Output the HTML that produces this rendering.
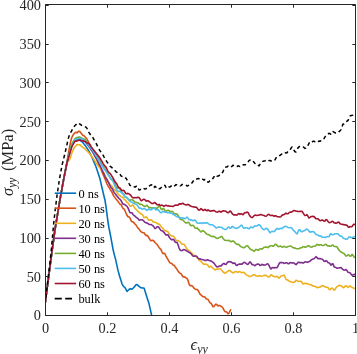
<!DOCTYPE html>
<html><head><meta charset="utf-8"><title>stress-strain</title>
<style>
html,body{margin:0;padding:0;background:#fff;}
svg{display:block;}
text{font-family:"Liberation Serif","DejaVu Serif",serif;fill:#262626;}
.tk{font-size:14.3px;}
.lg{font-size:12.4px;fill:#000;}
.ax{stroke:#262626;stroke-width:1;fill:none;}
.cv{fill:none;stroke-width:1.6;stroke-linejoin:round;stroke-linecap:butt;}
</style></head><body>
<svg width="357" height="354" viewBox="0 0 357 354">
<rect x="0" y="0" width="357" height="354" fill="#ffffff"/>
<defs><clipPath id="c"><rect x="45" y="5" width="310.5" height="310"/></clipPath></defs>

<g clip-path="url(#c)">
<path class="cv" d="M45.0 304.4 L46.0 296.8 L47.0 289.2 L48.0 281.6 L49.0 274.0 L50.0 266.4 L51.0 258.8 L52.0 251.4 L53.0 244.1 L54.0 236.8 L55.0 229.5 L56.0 223.5 L57.0 217.5 L58.0 211.5 L59.0 205.5 L60.0 199.5 L61.0 193.9 L62.0 188.4 L63.0 182.9 L64.0 177.5 L65.0 172.5 L66.0 167.5 L67.0 162.6 L68.0 158.5 L69.0 154.5 L70.0 150.5 L71.0 147.3 L72.0 144.9 L73.0 142.5 L74.0 141.8 L75.0 141.1 L76.0 140.5 L77.0 140.3 L78.0 140.1 L79.0 140.0 L80.0 140.5 L81.0 141.0 L82.0 141.5 L83.0 142.8 L84.0 144.1 L85.0 145.3 L86.0 146.6 L87.0 148.1 L88.0 149.7 L89.0 151.5 L90.0 153.3 L91.0 155.2 L92.0 157.5 L93.0 159.8 L94.0 162.1 L95.0 164.5 L96.0 166.8 L97.0 169.7 L98.0 172.7 L99.0 175.7 L100.0 179.0 L101.0 183.4 L102.0 187.7 L103.0 192.0 L104.0 196.2 L105.0 200.3 L106.0 206.7 L107.0 214.4 L108.0 222.0 L109.0 228.0 L110.0 233.0 L111.0 238.1 L112.0 243.7 L113.0 249.0 L114.0 253.6 L115.0 257.1 L116.0 261.1 L117.0 265.8 L118.0 270.4 L119.0 274.0 L120.0 277.6 L121.0 280.6 L122.0 283.8 L123.0 285.7 L124.0 286.8 L125.0 287.7 L126.0 289.4 L127.0 291.5 L128.0 290.5 L129.0 289.5 L130.0 288.8 L131.0 288.9 L132.0 289.2 L133.0 288.3 L134.0 287.2 L135.0 286.1 L136.0 284.8 L137.0 284.6 L138.0 285.4 L139.0 286.4 L140.0 287.1 L141.0 287.7 L142.0 287.9 L143.0 288.0 L144.0 288.0 L145.0 291.1 L146.0 294.3 L147.0 297.5 L148.0 300.6 L149.0 303.6 L150.0 308.1 L151.0 312.5 L151.6 315.0" stroke="#0072BD"/>
<path class="cv" d="M45.0 304.4 L46.0 296.7 L47.0 289.1 L48.0 281.6 L49.0 273.9 L50.0 266.2 L51.0 258.7 L52.0 251.2 L53.0 243.9 L54.0 236.7 L55.0 229.6 L56.0 223.8 L57.0 217.6 L58.0 211.4 L59.0 205.5 L60.0 199.5 L61.0 194.0 L62.0 188.5 L63.0 182.9 L64.0 177.4 L65.0 172.4 L66.0 167.5 L67.0 162.5 L68.0 156.2 L69.0 149.9 L70.0 145.0 L71.0 140.0 L72.0 137.1 L73.0 135.2 L74.0 133.7 L75.0 132.9 L76.0 132.3 L77.0 132.9 L78.0 131.9 L79.0 131.1 L80.0 131.7 L81.0 133.0 L82.0 134.4 L83.0 135.4 L84.0 135.8 L85.0 136.8 L86.0 137.9 L87.0 139.1 L88.0 141.1 L89.0 143.0 L90.0 144.7 L91.0 146.6 L92.0 148.7 L93.0 150.7 L94.0 152.9 L95.0 155.1 L96.0 157.4 L97.0 159.7 L98.0 162.2 L99.0 164.7 L100.0 167.2 L101.0 169.5 L102.0 172.0 L103.0 174.3 L104.0 176.4 L105.0 178.9 L106.0 181.5 L107.0 184.0 L108.0 186.0 L109.0 187.4 L110.0 189.2 L111.0 190.8 L112.0 192.3 L113.0 194.7 L114.0 196.4 L115.0 197.6 L116.0 199.1 L117.0 200.3 L118.0 201.3 L119.0 202.9 L120.0 204.3 L121.0 204.6 L122.0 206.6 L123.0 208.5 L124.0 208.9 L125.0 210.7 L126.0 213.1 L127.0 215.3 L128.0 216.8 L129.0 216.9 L130.0 218.0 L131.0 220.6 L132.0 221.8 L133.0 221.9 L134.0 222.8 L135.0 224.1 L136.0 225.0 L137.0 226.6 L138.0 228.1 L139.0 229.0 L140.0 230.5 L141.0 231.6 L142.0 232.3 L143.0 232.7 L144.0 232.7 L145.0 234.4 L146.0 235.4 L147.0 235.4 L148.0 236.4 L149.0 238.0 L150.0 239.7 L151.0 240.8 L152.0 240.4 L153.0 240.3 L154.0 241.2 L155.0 242.5 L156.0 243.5 L157.0 244.5 L158.0 245.9 L159.0 247.4 L160.0 248.6 L161.0 249.6 L162.0 251.8 L163.0 253.7 L164.0 253.3 L165.0 253.9 L166.0 256.1 L167.0 257.8 L168.0 259.6 L169.0 261.5 L170.0 262.9 L171.0 263.3 L172.0 263.8 L173.0 264.9 L174.0 265.3 L175.0 266.6 L176.0 268.0 L177.0 269.3 L178.0 271.0 L179.0 272.4 L180.0 273.2 L181.0 273.7 L182.0 275.3 L183.0 276.7 L184.0 276.9 L185.0 277.1 L186.0 277.9 L187.0 278.3 L188.0 280.3 L189.0 284.0 L190.0 285.6 L191.0 285.6 L192.0 285.8 L193.0 286.8 L194.0 288.2 L195.0 289.0 L196.0 289.5 L197.0 289.5 L198.0 290.1 L199.0 292.2 L200.0 294.1 L201.0 294.9 L202.0 295.8 L203.0 296.8 L204.0 296.7 L205.0 297.0 L206.0 298.7 L207.0 299.1 L208.0 299.4 L209.0 301.2 L210.0 302.8 L211.0 303.2 L212.0 304.9 L213.0 306.8 L214.0 306.4 L215.0 305.0 L216.0 304.0 L217.0 304.9 L218.0 305.9 L219.0 305.5 L220.0 305.5 L221.0 306.3 L222.0 306.9 L223.0 308.1 L224.0 310.2 L225.0 311.6 L226.0 311.7 L227.0 312.3 L228.0 313.9 L229.0 313.1 L230.0 311.2 L230.8 309.2" stroke="#D95319"/>
<path class="cv" d="M45.0 304.6 L46.0 296.9 L47.0 289.1 L48.0 281.4 L49.0 273.9 L50.0 266.3 L51.0 258.7 L52.0 251.3 L53.0 244.0 L54.0 236.7 L55.0 229.4 L56.0 223.6 L57.0 217.7 L58.0 211.7 L59.0 205.6 L60.0 199.4 L61.0 193.8 L62.0 188.3 L63.0 182.8 L64.0 177.4 L65.0 172.3 L66.0 167.5 L67.0 162.7 L68.0 161.4 L69.0 160.4 L70.0 158.9 L71.0 155.8 L72.0 152.5 L73.0 150.2 L74.0 148.2 L75.0 146.7 L76.0 145.7 L77.0 144.5 L78.0 144.6 L79.0 144.7 L80.0 144.9 L81.0 145.8 L82.0 146.6 L83.0 147.5 L84.0 148.1 L85.0 148.9 L86.0 150.0 L87.0 151.0 L88.0 151.9 L89.0 153.0 L90.0 154.2 L91.0 155.5 L92.0 156.8 L93.0 158.1 L94.0 159.7 L95.0 161.3 L96.0 162.8 L97.0 164.2 L98.0 165.6 L99.0 166.9 L100.0 168.1 L101.0 169.4 L102.0 170.5 L103.0 171.7 L104.0 173.2 L105.0 175.2 L106.0 177.4 L107.0 179.2 L108.0 181.2 L109.0 182.7 L110.0 184.5 L111.0 185.4 L112.0 186.1 L113.0 187.9 L114.0 189.4 L115.0 189.8 L116.0 190.9 L117.0 192.5 L118.0 194.0 L119.0 195.0 L120.0 195.8 L121.0 196.8 L122.0 197.0 L123.0 197.7 L124.0 199.1 L125.0 199.8 L126.0 201.1 L127.0 202.4 L128.0 202.9 L129.0 204.4 L130.0 206.0 L131.0 206.2 L132.0 205.3 L133.0 205.1 L134.0 206.6 L135.0 208.4 L136.0 209.2 L137.0 210.2 L138.0 211.4 L139.0 212.2 L140.0 213.1 L141.0 214.0 L142.0 214.1 L143.0 215.5 L144.0 217.6 L145.0 217.5 L146.0 216.7 L147.0 217.7 L148.0 219.4 L149.0 220.3 L150.0 220.1 L151.0 219.8 L152.0 220.4 L153.0 221.7 L154.0 222.2 L155.0 222.2 L156.0 222.6 L157.0 223.3 L158.0 223.9 L159.0 224.1 L160.0 224.9 L161.0 226.7 L162.0 227.5 L163.0 228.6 L164.0 229.8 L165.0 230.5 L166.0 231.1 L167.0 231.2 L168.0 231.8 L169.0 233.6 L170.0 234.9 L171.0 235.5 L172.0 236.0 L173.0 236.1 L174.0 236.6 L175.0 238.4 L176.0 240.3 L177.0 240.5 L178.0 240.5 L179.0 241.4 L180.0 241.9 L181.0 242.9 L182.0 244.3 L183.0 244.3 L184.0 244.2 L185.0 245.6 L186.0 247.4 L187.0 249.1 L188.0 250.1 L189.0 250.5 L190.0 251.6 L191.0 252.6 L192.0 253.3 L193.0 254.6 L194.0 255.1 L195.0 255.7 L196.0 256.8 L197.0 257.4 L198.0 258.4 L199.0 260.0 L200.0 260.8 L201.0 261.4 L202.0 262.5 L203.0 263.7 L204.0 264.2 L205.0 264.1 L206.0 264.3 L207.0 264.5 L208.0 265.4 L209.0 267.2 L210.0 266.6 L211.0 266.2 L212.0 267.5 L213.0 268.0 L214.0 269.0 L215.0 270.0 L216.0 269.3 L217.0 269.0 L218.0 269.3 L219.0 269.1 L220.0 268.6 L221.0 269.1 L222.0 270.6 L223.0 271.9 L224.0 272.7 L225.0 273.3 L226.0 272.7 L227.0 271.8 L228.0 271.1 L229.0 270.4 L230.0 270.6 L231.0 271.4 L232.0 272.5 L233.0 272.9 L234.0 272.3 L235.0 271.7 L236.0 271.6 L237.0 272.0 L238.0 272.4 L239.0 271.8 L240.0 271.6 L241.0 272.4 L242.0 272.8 L243.0 272.3 L244.0 272.5 L245.0 273.4 L246.0 274.6 L247.0 275.2 L248.0 275.6 L249.0 276.2 L250.0 276.6 L251.0 276.2 L252.0 275.4 L253.0 275.1 L254.0 274.7 L255.0 275.1 L256.0 275.9 L257.0 276.0 L258.0 276.2 L259.0 275.7 L260.0 275.7 L261.0 276.2 L262.0 276.0 L263.0 275.8 L264.0 275.5 L265.0 275.3 L266.0 275.4 L267.0 276.0 L268.0 276.8 L269.0 277.0 L270.0 276.2 L271.0 274.8 L272.0 275.3 L273.0 276.3 L274.0 276.4 L275.0 276.9 L276.0 276.7 L277.0 276.2 L278.0 277.2 L279.0 278.1 L280.0 277.2 L281.0 276.1 L282.0 275.8 L283.0 275.5 L284.0 275.1 L285.0 276.8 L286.0 279.3 L287.0 279.9 L288.0 280.1 L289.0 281.0 L290.0 281.6 L291.0 281.8 L292.0 282.4 L293.0 282.3 L294.0 282.2 L295.0 281.8 L296.0 280.3 L297.0 280.5 L298.0 281.4 L299.0 281.2 L300.0 281.3 L301.0 281.4 L302.0 282.4 L303.0 284.1 L304.0 283.8 L305.0 283.3 L306.0 283.6 L307.0 283.6 L308.0 283.8 L309.0 284.4 L310.0 284.7 L311.0 284.5 L312.0 285.5 L313.0 286.1 L314.0 286.1 L315.0 286.5 L316.0 286.8 L317.0 287.5 L318.0 287.6 L319.0 287.2 L320.0 287.1 L321.0 286.5 L322.0 285.6 L323.0 285.7 L324.0 286.2 L325.0 286.7 L326.0 287.2 L327.0 287.2 L328.0 287.6 L329.0 289.3 L330.0 289.8 L331.0 288.5 L332.0 288.1 L333.0 288.9 L334.0 290.1 L335.0 289.7 L336.0 287.7 L337.0 286.6 L338.0 286.1 L339.0 285.4 L340.0 285.4 L341.0 285.8 L342.0 286.4 L343.0 287.6 L344.0 287.5 L345.0 286.1 L346.0 285.6 L347.0 286.7 L348.0 287.5 L349.0 286.5 L350.0 285.9 L351.0 286.9 L352.0 287.4 L353.0 287.7 L354.0 288.5 L355.0 288.3" stroke="#EDB120"/>
<path class="cv" d="M45.0 304.4 L46.0 296.8 L47.0 289.2 L48.0 281.6 L49.0 273.9 L50.0 266.2 L51.0 258.7 L52.0 251.4 L53.0 244.1 L54.0 236.7 L55.0 229.5 L56.0 223.5 L57.0 217.6 L58.0 211.5 L59.0 205.4 L60.0 199.4 L61.0 194.0 L62.0 188.6 L63.0 183.0 L64.0 177.5 L65.0 172.4 L66.0 167.5 L67.0 162.5 L68.0 158.4 L69.0 154.6 L70.0 150.7 L71.0 147.4 L72.0 145.0 L73.0 142.5 L74.0 141.6 L75.0 140.7 L76.0 140.0 L77.0 139.7 L78.0 139.4 L79.0 139.3 L80.0 139.8 L81.0 140.1 L82.0 140.2 L83.0 140.6 L84.0 141.0 L85.0 141.4 L86.0 142.7 L87.0 143.9 L88.0 145.2 L89.0 146.5 L90.0 148.1 L91.0 149.6 L92.0 151.1 L93.0 152.6 L94.0 154.5 L95.0 156.3 L96.0 158.1 L97.0 160.0 L98.0 162.0 L99.0 163.9 L100.0 165.7 L101.0 167.6 L102.0 169.8 L103.0 172.0 L104.0 174.2 L105.0 176.6 L106.0 178.3 L107.0 179.8 L108.0 181.6 L109.0 183.6 L110.0 185.7 L111.0 187.5 L112.0 188.5 L113.0 190.1 L114.0 192.4 L115.0 193.6 L116.0 194.7 L117.0 196.1 L118.0 197.2 L119.0 198.5 L120.0 199.4 L121.0 200.3 L122.0 202.5 L123.0 204.1 L124.0 204.3 L125.0 204.8 L126.0 205.5 L127.0 206.3 L128.0 207.9 L129.0 210.4 L130.0 212.7 L131.0 212.7 L132.0 212.7 L133.0 214.5 L134.0 215.5 L135.0 216.1 L136.0 217.1 L137.0 217.8 L138.0 218.6 L139.0 219.9 L140.0 220.1 L141.0 219.8 L142.0 219.8 L143.0 220.2 L144.0 221.3 L145.0 222.4 L146.0 222.9 L147.0 222.9 L148.0 223.5 L149.0 224.4 L150.0 224.5 L151.0 224.5 L152.0 225.1 L153.0 225.8 L154.0 227.1 L155.0 228.6 L156.0 228.1 L157.0 226.7 L158.0 226.7 L159.0 227.5 L160.0 229.1 L161.0 230.5 L162.0 230.7 L163.0 231.4 L164.0 232.3 L165.0 233.8 L166.0 235.1 L167.0 234.7 L168.0 234.9 L169.0 236.8 L170.0 238.3 L171.0 239.3 L172.0 239.9 L173.0 239.3 L174.0 239.8 L175.0 241.8 L176.0 242.5 L177.0 242.3 L178.0 244.7 L179.0 247.8 L180.0 249.8 L181.0 250.5 L182.0 250.7 L183.0 250.0 L184.0 249.6 L185.0 249.9 L186.0 250.5 L187.0 251.1 L188.0 251.7 L189.0 252.4 L190.0 252.8 L191.0 253.6 L192.0 254.9 L193.0 256.1 L194.0 256.3 L195.0 256.0 L196.0 256.0 L197.0 256.6 L198.0 258.2 L199.0 258.9 L200.0 258.7 L201.0 259.2 L202.0 259.5 L203.0 259.8 L204.0 260.1 L205.0 260.4 L206.0 260.5 L207.0 259.8 L208.0 259.9 L209.0 260.5 L210.0 260.7 L211.0 261.0 L212.0 261.6 L213.0 262.4 L214.0 263.2 L215.0 264.6 L216.0 266.0 L217.0 266.9 L218.0 266.8 L219.0 266.2 L220.0 265.9 L221.0 265.9 L222.0 264.9 L223.0 263.7 L224.0 263.4 L225.0 264.3 L226.0 264.5 L227.0 263.0 L228.0 261.9 L229.0 261.5 L230.0 261.9 L231.0 261.9 L232.0 262.6 L233.0 263.5 L234.0 262.9 L235.0 263.2 L236.0 265.1 L237.0 265.5 L238.0 264.6 L239.0 264.1 L240.0 264.0 L241.0 264.1 L242.0 264.1 L243.0 263.2 L244.0 262.4 L245.0 262.5 L246.0 263.3 L247.0 264.3 L248.0 264.4 L249.0 263.0 L250.0 261.8 L251.0 262.9 L252.0 264.7 L253.0 264.6 L254.0 265.1 L255.0 265.7 L256.0 264.7 L257.0 264.3 L258.0 264.1 L259.0 264.2 L260.0 265.4 L261.0 265.3 L262.0 264.3 L263.0 264.9 L264.0 265.1 L265.0 265.0 L266.0 264.7 L267.0 264.0 L268.0 263.9 L269.0 265.4 L270.0 267.8 L271.0 268.9 L272.0 267.7 L273.0 267.5 L274.0 267.9 L275.0 267.6 L276.0 267.8 L277.0 267.7 L278.0 266.0 L279.0 263.8 L280.0 262.6 L281.0 262.6 L282.0 262.6 L283.0 262.7 L284.0 263.4 L285.0 263.3 L286.0 262.7 L287.0 262.7 L288.0 263.7 L289.0 263.6 L290.0 262.5 L291.0 262.8 L292.0 263.1 L293.0 262.8 L294.0 263.0 L295.0 264.0 L296.0 264.6 L297.0 263.7 L298.0 262.4 L299.0 262.3 L300.0 262.7 L301.0 262.5 L302.0 262.6 L303.0 263.1 L304.0 262.5 L305.0 261.9 L306.0 262.0 L307.0 262.3 L308.0 261.9 L309.0 261.7 L310.0 261.1 L311.0 260.1 L312.0 259.4 L313.0 259.0 L314.0 258.8 L315.0 257.7 L316.0 256.7 L317.0 257.6 L318.0 258.8 L319.0 258.5 L320.0 258.6 L321.0 259.0 L322.0 259.0 L323.0 259.8 L324.0 261.2 L325.0 261.4 L326.0 260.6 L327.0 261.2 L328.0 262.6 L329.0 262.7 L330.0 263.7 L331.0 265.2 L332.0 263.9 L333.0 263.9 L334.0 266.6 L335.0 267.3 L336.0 267.5 L337.0 268.3 L338.0 268.0 L339.0 267.9 L340.0 267.7 L341.0 267.6 L342.0 268.6 L343.0 269.5 L344.0 270.2 L345.0 270.0 L346.0 269.6 L347.0 270.6 L348.0 272.3 L349.0 272.5 L350.0 272.8 L351.0 274.1 L352.0 275.1 L353.0 275.0 L354.0 274.4 L355.0 274.6" stroke="#7E2F8E"/>
<path class="cv" d="M45.0 304.4 L46.0 296.9 L47.0 289.4 L48.0 281.7 L49.0 274.1 L50.0 266.5 L51.0 258.8 L52.0 251.3 L53.0 244.0 L54.0 236.7 L55.0 229.4 L56.0 223.4 L57.0 217.5 L58.0 211.5 L59.0 205.3 L60.0 199.4 L61.0 194.1 L62.0 188.6 L63.0 182.9 L64.0 177.4 L65.0 172.4 L66.0 167.3 L67.0 162.3 L68.0 158.4 L69.0 154.6 L70.0 150.7 L71.0 146.7 L72.0 144.1 L73.0 142.1 L74.0 140.1 L75.0 138.6 L76.0 138.0 L77.0 137.5 L78.0 137.3 L79.0 137.1 L80.0 137.1 L81.0 137.6 L82.0 138.1 L83.0 138.6 L84.0 139.0 L85.0 139.5 L86.0 140.8 L87.0 142.2 L88.0 143.6 L89.0 145.1 L90.0 146.5 L91.0 147.7 L92.0 148.9 L93.0 150.0 L94.0 151.4 L95.0 153.1 L96.0 154.6 L97.0 156.0 L98.0 157.6 L99.0 159.4 L100.0 161.1 L101.0 162.9 L102.0 164.8 L103.0 166.3 L104.0 167.6 L105.0 169.2 L106.0 171.0 L107.0 172.4 L108.0 173.8 L109.0 175.6 L110.0 177.4 L111.0 179.0 L112.0 179.6 L113.0 180.3 L114.0 182.2 L115.0 183.8 L116.0 186.3 L117.0 188.1 L118.0 187.9 L119.0 187.8 L120.0 189.4 L121.0 191.7 L122.0 192.9 L123.0 193.2 L124.0 194.9 L125.0 196.8 L126.0 197.3 L127.0 197.8 L128.0 198.9 L129.0 199.9 L130.0 200.2 L131.0 199.8 L132.0 199.8 L133.0 200.2 L134.0 201.1 L135.0 202.3 L136.0 202.5 L137.0 202.5 L138.0 202.8 L139.0 203.6 L140.0 204.4 L141.0 204.3 L142.0 204.5 L143.0 205.4 L144.0 206.2 L145.0 206.5 L146.0 205.8 L147.0 205.4 L148.0 206.5 L149.0 207.6 L150.0 207.5 L151.0 207.8 L152.0 208.3 L153.0 207.8 L154.0 207.8 L155.0 208.1 L156.0 208.1 L157.0 208.4 L158.0 207.4 L159.0 206.0 L160.0 206.7 L161.0 209.0 L162.0 209.7 L163.0 208.5 L164.0 208.9 L165.0 210.8 L166.0 211.2 L167.0 210.7 L168.0 210.3 L169.0 210.6 L170.0 211.6 L171.0 211.9 L172.0 211.2 L173.0 211.9 L174.0 213.5 L175.0 213.9 L176.0 213.8 L177.0 214.1 L178.0 215.2 L179.0 217.1 L180.0 219.0 L181.0 219.7 L182.0 219.6 L183.0 220.1 L184.0 221.3 L185.0 222.3 L186.0 223.0 L187.0 223.0 L188.0 222.2 L189.0 222.7 L190.0 224.7 L191.0 225.6 L192.0 225.5 L193.0 225.3 L194.0 226.1 L195.0 228.0 L196.0 228.3 L197.0 227.9 L198.0 228.9 L199.0 229.9 L200.0 231.0 L201.0 232.0 L202.0 231.1 L203.0 230.5 L204.0 231.3 L205.0 232.3 L206.0 233.4 L207.0 234.2 L208.0 234.5 L209.0 234.9 L210.0 235.5 L211.0 236.1 L212.0 236.6 L213.0 236.4 L214.0 236.5 L215.0 237.2 L216.0 238.0 L217.0 238.4 L218.0 238.3 L219.0 237.6 L220.0 237.3 L221.0 236.5 L222.0 236.6 L223.0 238.4 L224.0 239.6 L225.0 240.3 L226.0 240.5 L227.0 240.5 L228.0 240.5 L229.0 240.4 L230.0 241.2 L231.0 241.8 L232.0 241.3 L233.0 240.9 L234.0 241.5 L235.0 242.8 L236.0 243.8 L237.0 244.4 L238.0 244.3 L239.0 244.6 L240.0 246.0 L241.0 246.7 L242.0 247.1 L243.0 247.6 L244.0 247.8 L245.0 247.1 L246.0 246.1 L247.0 245.6 L248.0 246.2 L249.0 247.5 L250.0 248.9 L251.0 249.7 L252.0 249.8 L253.0 250.5 L254.0 251.4 L255.0 250.5 L256.0 249.4 L257.0 249.8 L258.0 250.2 L259.0 249.7 L260.0 248.7 L261.0 248.8 L262.0 249.3 L263.0 248.3 L264.0 247.2 L265.0 247.2 L266.0 246.9 L267.0 247.3 L268.0 247.6 L269.0 246.7 L270.0 246.0 L271.0 245.7 L272.0 245.8 L273.0 246.2 L274.0 245.7 L275.0 244.5 L276.0 244.3 L277.0 245.4 L278.0 246.4 L279.0 246.6 L280.0 246.1 L281.0 246.3 L282.0 247.2 L283.0 246.9 L284.0 246.3 L285.0 246.9 L286.0 247.4 L287.0 247.1 L288.0 246.5 L289.0 246.3 L290.0 246.0 L291.0 246.0 L292.0 246.8 L293.0 247.5 L294.0 247.9 L295.0 248.1 L296.0 248.5 L297.0 248.7 L298.0 248.7 L299.0 248.7 L300.0 248.1 L301.0 247.7 L302.0 247.6 L303.0 246.7 L304.0 246.8 L305.0 247.2 L306.0 246.9 L307.0 246.6 L308.0 245.9 L309.0 245.8 L310.0 246.6 L311.0 247.2 L312.0 247.0 L313.0 246.3 L314.0 246.2 L315.0 246.3 L316.0 245.5 L317.0 244.4 L318.0 244.8 L319.0 245.3 L320.0 244.7 L321.0 244.8 L322.0 245.3 L323.0 245.5 L324.0 245.2 L325.0 244.6 L326.0 244.3 L327.0 245.4 L328.0 246.1 L329.0 245.8 L330.0 246.2 L331.0 246.2 L332.0 245.3 L333.0 245.1 L334.0 246.3 L335.0 246.5 L336.0 246.6 L337.0 247.0 L338.0 248.5 L339.0 250.2 L340.0 251.1 L341.0 251.8 L342.0 252.5 L343.0 253.0 L344.0 253.4 L345.0 254.7 L346.0 256.1 L347.0 255.8 L348.0 254.9 L349.0 255.0 L350.0 256.1 L351.0 256.0 L352.0 254.4 L353.0 255.1 L354.0 257.2 L355.0 257.4" stroke="#77AC30"/>
<path class="cv" d="M45.0 304.4 L46.0 296.9 L47.0 289.2 L48.0 281.4 L49.0 273.7 L50.0 266.4 L51.0 258.9 L52.0 251.3 L53.0 244.1 L54.0 237.0 L55.0 229.8 L56.0 223.7 L57.0 217.6 L58.0 211.6 L59.0 205.6 L60.0 199.5 L61.0 194.0 L62.0 188.4 L63.0 183.0 L64.0 177.6 L65.0 172.7 L66.0 167.6 L67.0 162.4 L68.0 158.9 L69.0 155.5 L70.0 151.9 L71.0 148.4 L72.0 145.4 L73.0 143.5 L74.0 141.6 L75.0 139.7 L76.0 139.2 L77.0 138.9 L78.0 138.8 L79.0 138.6 L80.0 138.5 L81.0 138.5 L82.0 138.8 L83.0 139.4 L84.0 140.1 L85.0 140.6 L86.0 141.7 L87.0 142.9 L88.0 144.3 L89.0 145.5 L90.0 146.8 L91.0 148.3 L92.0 149.6 L93.0 150.9 L94.0 152.4 L95.0 154.2 L96.0 155.8 L97.0 157.4 L98.0 158.9 L99.0 160.7 L100.0 162.6 L101.0 164.2 L102.0 165.5 L103.0 167.1 L104.0 168.8 L105.0 170.1 L106.0 171.3 L107.0 172.9 L108.0 174.8 L109.0 176.2 L110.0 177.5 L111.0 179.1 L112.0 180.1 L113.0 181.3 L114.0 183.9 L115.0 186.3 L116.0 188.1 L117.0 190.2 L118.0 191.5 L119.0 191.4 L120.0 191.5 L121.0 192.0 L122.0 192.7 L123.0 194.1 L124.0 195.5 L125.0 196.9 L126.0 197.4 L127.0 197.5 L128.0 198.8 L129.0 200.3 L130.0 201.4 L131.0 201.8 L132.0 202.0 L133.0 202.9 L134.0 203.5 L135.0 204.0 L136.0 204.3 L137.0 204.8 L138.0 206.4 L139.0 208.0 L140.0 208.1 L141.0 208.3 L142.0 209.1 L143.0 209.0 L144.0 208.5 L145.0 208.8 L146.0 209.8 L147.0 210.4 L148.0 209.5 L149.0 208.8 L150.0 209.5 L151.0 209.9 L152.0 209.2 L153.0 208.4 L154.0 208.1 L155.0 208.9 L156.0 209.9 L157.0 209.7 L158.0 209.5 L159.0 210.6 L160.0 212.2 L161.0 212.8 L162.0 212.1 L163.0 211.4 L164.0 211.7 L165.0 212.1 L166.0 212.3 L167.0 212.6 L168.0 212.7 L169.0 212.8 L170.0 213.0 L171.0 213.1 L172.0 213.6 L173.0 214.2 L174.0 214.7 L175.0 215.3 L176.0 216.1 L177.0 216.8 L178.0 216.9 L179.0 217.3 L180.0 217.6 L181.0 217.7 L182.0 218.1 L183.0 218.1 L184.0 218.0 L185.0 218.8 L186.0 218.0 L187.0 217.0 L188.0 218.4 L189.0 219.5 L190.0 219.9 L191.0 219.8 L192.0 220.2 L193.0 220.7 L194.0 220.2 L195.0 220.0 L196.0 221.3 L197.0 222.7 L198.0 223.3 L199.0 223.3 L200.0 222.9 L201.0 223.0 L202.0 223.5 L203.0 223.1 L204.0 222.7 L205.0 223.1 L206.0 222.9 L207.0 222.8 L208.0 223.4 L209.0 224.1 L210.0 224.7 L211.0 224.7 L212.0 224.7 L213.0 225.2 L214.0 225.7 L215.0 226.8 L216.0 227.9 L217.0 227.8 L218.0 227.1 L219.0 227.0 L220.0 227.2 L221.0 227.3 L222.0 227.6 L223.0 228.6 L224.0 229.1 L225.0 229.4 L226.0 229.5 L227.0 228.5 L228.0 227.2 L229.0 227.1 L230.0 228.3 L231.0 228.0 L232.0 226.5 L233.0 226.6 L234.0 227.6 L235.0 228.1 L236.0 228.4 L237.0 228.2 L238.0 227.7 L239.0 227.2 L240.0 226.3 L241.0 225.2 L242.0 225.4 L243.0 227.5 L244.0 228.3 L245.0 227.9 L246.0 227.8 L247.0 227.7 L248.0 228.3 L249.0 228.8 L250.0 227.9 L251.0 226.9 L252.0 227.5 L253.0 227.8 L254.0 226.6 L255.0 225.8 L256.0 226.0 L257.0 225.9 L258.0 225.1 L259.0 224.7 L260.0 225.2 L261.0 226.6 L262.0 228.2 L263.0 229.3 L264.0 229.7 L265.0 229.1 L266.0 228.3 L267.0 228.6 L268.0 229.6 L269.0 231.3 L270.0 232.8 L271.0 232.0 L272.0 231.2 L273.0 231.5 L274.0 231.6 L275.0 230.8 L276.0 229.3 L277.0 228.4 L278.0 228.8 L279.0 229.2 L280.0 228.5 L281.0 228.2 L282.0 228.6 L283.0 227.7 L284.0 226.8 L285.0 226.4 L286.0 226.4 L287.0 226.9 L288.0 227.5 L289.0 227.8 L290.0 227.8 L291.0 227.6 L292.0 228.4 L293.0 229.9 L294.0 230.8 L295.0 231.7 L296.0 233.1 L297.0 233.9 L298.0 231.8 L299.0 229.7 L300.0 230.1 L301.0 231.4 L302.0 231.8 L303.0 231.1 L304.0 230.7 L305.0 230.4 L306.0 229.4 L307.0 229.0 L308.0 229.8 L309.0 231.2 L310.0 232.1 L311.0 231.9 L312.0 231.7 L313.0 231.6 L314.0 231.9 L315.0 233.2 L316.0 234.5 L317.0 234.8 L318.0 235.1 L319.0 235.9 L320.0 235.8 L321.0 236.1 L322.0 237.2 L323.0 237.3 L324.0 237.2 L325.0 237.4 L326.0 237.1 L327.0 236.6 L328.0 236.8 L329.0 236.6 L330.0 234.6 L331.0 233.7 L332.0 234.7 L333.0 234.8 L334.0 234.3 L335.0 233.7 L336.0 233.8 L337.0 233.8 L338.0 233.9 L339.0 235.0 L340.0 235.9 L341.0 235.9 L342.0 236.6 L343.0 237.9 L344.0 238.5 L345.0 238.7 L346.0 239.3 L347.0 239.3 L348.0 238.2 L349.0 236.9 L350.0 237.0 L351.0 237.6 L352.0 237.5 L353.0 237.4 L354.0 236.9 L355.0 236.6" stroke="#4DBEEE"/>
<path class="cv" d="M45.0 304.5 L46.0 296.8 L47.0 289.2 L48.0 281.6 L49.0 273.9 L50.0 266.4 L51.0 258.7 L52.0 251.2 L53.0 244.1 L54.0 236.9 L55.0 229.5 L56.0 223.5 L57.0 217.5 L58.0 211.5 L59.0 205.4 L60.0 199.4 L61.0 193.9 L62.0 188.5 L63.0 182.8 L64.0 177.4 L65.0 172.6 L66.0 167.6 L67.0 162.6 L68.0 159.4 L69.0 156.1 L70.0 152.7 L71.0 149.5 L72.0 146.3 L73.0 144.7 L74.0 142.9 L75.0 141.2 L76.0 141.1 L77.0 140.9 L78.0 140.6 L79.0 140.3 L80.0 140.1 L81.0 140.4 L82.0 140.8 L83.0 141.0 L84.0 141.1 L85.0 141.5 L86.0 142.2 L87.0 142.8 L88.0 143.3 L89.0 143.8 L90.0 145.0 L91.0 146.6 L92.0 148.1 L93.0 149.3 L94.0 150.5 L95.0 151.8 L96.0 153.0 L97.0 154.2 L98.0 155.5 L99.0 156.8 L100.0 158.3 L101.0 159.8 L102.0 161.5 L103.0 163.3 L104.0 165.0 L105.0 166.1 L106.0 167.2 L107.0 169.4 L108.0 171.5 L109.0 172.5 L110.0 173.4 L111.0 174.7 L112.0 176.3 L113.0 178.0 L114.0 179.8 L115.0 181.8 L116.0 182.9 L117.0 184.3 L118.0 186.5 L119.0 187.8 L120.0 188.1 L121.0 189.4 L122.0 190.8 L123.0 190.4 L124.0 190.5 L125.0 192.3 L126.0 193.7 L127.0 193.6 L128.0 193.4 L129.0 193.9 L130.0 194.6 L131.0 195.6 L132.0 197.2 L133.0 197.9 L134.0 197.7 L135.0 197.6 L136.0 197.8 L137.0 197.6 L138.0 197.4 L139.0 197.5 L140.0 198.9 L141.0 200.7 L142.0 200.5 L143.0 199.5 L144.0 199.3 L145.0 199.8 L146.0 200.9 L147.0 201.1 L148.0 200.8 L149.0 201.4 L150.0 202.2 L151.0 202.9 L152.0 203.5 L153.0 203.5 L154.0 202.8 L155.0 202.6 L156.0 203.6 L157.0 204.8 L158.0 204.7 L159.0 204.4 L160.0 205.3 L161.0 205.5 L162.0 205.1 L163.0 205.6 L164.0 206.4 L165.0 205.6 L166.0 205.1 L167.0 205.8 L168.0 205.9 L169.0 205.9 L170.0 206.3 L171.0 206.3 L172.0 206.3 L173.0 206.5 L174.0 205.9 L175.0 205.2 L176.0 205.0 L177.0 205.2 L178.0 205.1 L179.0 204.1 L180.0 203.7 L181.0 204.2 L182.0 203.5 L183.0 203.3 L184.0 204.2 L185.0 204.6 L186.0 204.9 L187.0 204.8 L188.0 204.4 L189.0 204.7 L190.0 205.7 L191.0 206.3 L192.0 206.6 L193.0 206.7 L194.0 207.0 L195.0 207.1 L196.0 207.0 L197.0 207.9 L198.0 209.3 L199.0 210.2 L200.0 209.8 L201.0 208.6 L202.0 209.4 L203.0 210.5 L204.0 210.1 L205.0 209.4 L206.0 210.3 L207.0 210.8 L208.0 209.9 L209.0 210.5 L210.0 211.2 L211.0 210.9 L212.0 210.9 L213.0 210.6 L214.0 210.5 L215.0 211.2 L216.0 211.7 L217.0 212.1 L218.0 212.0 L219.0 211.2 L220.0 211.4 L221.0 212.2 L222.0 211.5 L223.0 210.7 L224.0 210.9 L225.0 211.0 L226.0 211.3 L227.0 212.2 L228.0 212.8 L229.0 212.1 L230.0 211.0 L231.0 211.7 L232.0 213.4 L233.0 214.3 L234.0 215.0 L235.0 214.9 L236.0 215.0 L237.0 215.1 L238.0 213.9 L239.0 213.6 L240.0 214.4 L241.0 213.8 L242.0 214.1 L243.0 214.7 L244.0 213.4 L245.0 212.6 L246.0 212.8 L247.0 212.1 L248.0 212.4 L249.0 214.3 L250.0 216.1 L251.0 217.1 L252.0 217.6 L253.0 216.8 L254.0 215.8 L255.0 215.1 L256.0 215.3 L257.0 215.5 L258.0 215.3 L259.0 215.1 L260.0 214.7 L261.0 214.5 L262.0 214.9 L263.0 215.2 L264.0 215.5 L265.0 216.0 L266.0 216.3 L267.0 215.5 L268.0 214.5 L269.0 214.4 L270.0 215.2 L271.0 215.6 L272.0 215.2 L273.0 215.6 L274.0 216.2 L275.0 215.8 L276.0 215.9 L277.0 216.6 L278.0 216.7 L279.0 216.8 L280.0 217.1 L281.0 216.6 L282.0 215.3 L283.0 214.7 L284.0 214.7 L285.0 213.9 L286.0 213.1 L287.0 213.8 L288.0 213.8 L289.0 212.8 L290.0 212.1 L291.0 212.2 L292.0 211.8 L293.0 211.0 L294.0 210.5 L295.0 210.8 L296.0 211.1 L297.0 211.2 L298.0 211.4 L299.0 211.5 L300.0 211.4 L301.0 211.2 L302.0 211.4 L303.0 212.8 L304.0 214.4 L305.0 215.6 L306.0 215.3 L307.0 214.7 L308.0 216.4 L309.0 218.0 L310.0 217.4 L311.0 216.6 L312.0 216.5 L313.0 216.4 L314.0 216.6 L315.0 217.6 L316.0 218.7 L317.0 218.8 L318.0 218.7 L319.0 219.9 L320.0 220.7 L321.0 220.5 L322.0 220.0 L323.0 220.2 L324.0 221.3 L325.0 220.9 L326.0 219.6 L327.0 219.9 L328.0 221.5 L329.0 222.5 L330.0 222.6 L331.0 222.2 L332.0 221.4 L333.0 221.5 L334.0 222.8 L335.0 223.1 L336.0 223.1 L337.0 223.0 L338.0 222.1 L339.0 222.2 L340.0 223.7 L341.0 224.1 L342.0 224.2 L343.0 224.6 L344.0 224.6 L345.0 224.9 L346.0 225.1 L347.0 225.3 L348.0 226.7 L349.0 227.3 L350.0 226.6 L351.0 226.7 L352.0 226.7 L353.0 225.1 L354.0 224.2 L355.0 224.7" stroke="#A2142F"/>
<path class="cv" d="M45.0 304.5 L46.0 296.0 L47.0 287.3 L48.0 278.8 L49.0 270.5 L50.0 262.4 L51.0 252.9 L52.0 242.0 L53.0 231.0 L54.0 220.4 L55.0 212.0 L56.0 203.7 L57.0 195.6 L58.0 188.9 L59.0 182.2 L60.0 176.2 L61.0 170.9 L62.0 165.4 L63.0 161.3 L64.0 157.3 L65.0 153.3 L66.0 148.8 L67.0 144.3 L68.0 139.7 L69.0 136.2 L70.0 133.9 L71.0 131.8 L72.0 130.1 L73.0 128.4 L74.0 126.8 L75.0 125.5 L76.0 124.7 L77.0 123.8 L78.0 123.0 L79.0 123.5 L80.0 124.2 L81.0 124.9 L82.0 125.6 L83.0 125.9 L84.0 126.3 L85.0 126.7 L86.0 127.1 L87.0 128.4 L88.0 131.0 L89.0 132.6 L90.0 134.0 L91.0 135.5 L92.0 136.6 L93.0 137.8 L94.0 139.7 L95.0 141.4 L96.0 143.2 L97.0 145.2 L98.0 147.1 L99.0 149.2 L100.0 150.8 L101.0 151.9 L102.0 153.2 L103.0 155.0 L104.0 156.8 L105.0 158.5 L106.0 160.3 L107.0 161.9 L108.0 163.2 L109.0 164.6 L110.0 166.2 L111.0 166.9 L112.0 167.7 L113.0 169.4 L114.0 170.1 L115.0 170.6 L116.0 171.8 L117.0 172.3 L118.0 172.8 L119.0 173.3 L120.0 174.1 L121.0 175.8 L122.0 176.5 L123.0 176.6 L124.0 177.8 L125.0 178.1 L126.0 178.1 L127.0 179.8 L128.0 181.7 L129.0 183.5 L130.0 185.3 L131.0 185.8 L132.0 185.5 L133.0 185.9 L134.0 186.6 L135.0 187.2 L136.0 186.4 L137.0 186.0 L138.0 187.8 L139.0 189.9 L140.0 189.7 L141.0 189.4 L142.0 189.9 L143.0 189.0 L144.0 188.6 L145.0 189.1 L146.0 188.8 L147.0 187.5 L148.0 186.5 L149.0 186.2 L150.0 185.5 L151.0 184.8 L152.0 185.2 L153.0 187.3 L154.0 187.5 L155.0 186.3 L156.0 187.2 L157.0 188.7 L158.0 188.3 L159.0 188.6 L160.0 188.7 L161.0 187.8 L162.0 186.9 L163.0 186.4 L164.0 185.3 L165.0 185.4 L166.0 187.5 L167.0 188.5 L168.0 187.6 L169.0 187.0 L170.0 187.0 L171.0 186.2 L172.0 185.1 L173.0 185.3 L174.0 186.2 L175.0 185.7 L176.0 184.6 L177.0 185.0 L178.0 185.6 L179.0 185.4 L180.0 185.9 L181.0 185.6 L182.0 184.5 L183.0 184.4 L184.0 184.8 L185.0 184.8 L186.0 185.2 L187.0 186.0 L188.0 185.7 L189.0 185.0 L190.0 184.6 L191.0 183.9 L192.0 182.9 L193.0 181.5 L194.0 179.7 L195.0 179.3 L196.0 179.3 L197.0 178.9 L198.0 178.5 L199.0 178.7 L200.0 179.2 L201.0 179.0 L202.0 178.5 L203.0 179.4 L204.0 180.1 L205.0 179.5 L206.0 179.5 L207.0 181.2 L208.0 182.3 L209.0 181.6 L210.0 180.8 L211.0 180.5 L212.0 179.7 L213.0 178.3 L214.0 176.7 L215.0 177.3 L216.0 178.0 L217.0 176.4 L218.0 175.9 L219.0 175.7 L220.0 174.5 L221.0 173.4 L222.0 173.1 L223.0 171.7 L224.0 169.1 L225.0 167.3 L226.0 167.1 L227.0 167.0 L228.0 166.1 L229.0 166.0 L230.0 166.9 L231.0 167.1 L232.0 166.3 L233.0 165.2 L234.0 165.6 L235.0 166.2 L236.0 166.4 L237.0 166.6 L238.0 165.8 L239.0 166.1 L240.0 166.6 L241.0 165.7 L242.0 165.5 L243.0 165.0 L244.0 164.6 L245.0 164.9 L246.0 164.4 L247.0 163.6 L248.0 162.3 L249.0 160.7 L250.0 160.0 L251.0 159.9 L252.0 159.8 L253.0 161.0 L254.0 162.3 L255.0 163.5 L256.0 164.2 L257.0 164.1 L258.0 165.2 L259.0 165.9 L260.0 164.4 L261.0 163.6 L262.0 162.2 L263.0 161.2 L264.0 161.1 L265.0 160.8 L266.0 160.4 L267.0 160.8 L268.0 161.3 L269.0 160.6 L270.0 160.5 L271.0 161.0 L272.0 160.4 L273.0 159.7 L274.0 160.1 L275.0 159.8 L276.0 157.9 L277.0 156.7 L278.0 156.6 L279.0 156.0 L280.0 155.3 L281.0 154.6 L282.0 154.0 L283.0 153.9 L284.0 153.3 L285.0 152.6 L286.0 153.0 L287.0 152.7 L288.0 151.3 L289.0 150.8 L290.0 150.2 L291.0 148.2 L292.0 147.0 L293.0 148.6 L294.0 150.3 L295.0 151.7 L296.0 152.0 L297.0 149.7 L298.0 147.9 L299.0 146.9 L300.0 146.4 L301.0 146.5 L302.0 146.6 L303.0 146.6 L304.0 147.5 L305.0 148.4 L306.0 148.1 L307.0 146.7 L308.0 145.3 L309.0 143.3 L310.0 141.7 L311.0 142.0 L312.0 142.2 L313.0 141.3 L314.0 141.3 L315.0 141.7 L316.0 141.9 L317.0 142.4 L318.0 141.9 L319.0 141.0 L320.0 141.3 L321.0 140.7 L322.0 139.4 L323.0 139.2 L324.0 138.6 L325.0 136.9 L326.0 135.6 L327.0 135.4 L328.0 134.4 L329.0 133.3 L330.0 133.6 L331.0 134.3 L332.0 132.8 L333.0 131.6 L334.0 132.2 L335.0 132.9 L336.0 132.7 L337.0 132.6 L338.0 132.6 L339.0 131.6 L340.0 130.9 L341.0 129.6 L342.0 126.7 L343.0 124.1 L344.0 123.9 L345.0 123.1 L346.0 121.7 L347.0 121.3 L348.0 120.4 L349.0 118.3 L350.0 116.2 L351.0 115.4 L352.0 115.4 L353.0 115.1 L354.0 114.0 L355.0 112.8" stroke="#000000" stroke-dasharray="3.7 3" style="stroke-width:1.5"/>
</g>
<path class="ax" d="M45.5 4.5 H355.5 V315.5 H45.5 Z"/>
<path class="ax" d="M45.5 315.5 v-3.2 M45.5 4.5 v3.2 M107.5 315.5 v-3.2 M107.5 4.5 v3.2 M169.5 315.5 v-3.2 M169.5 4.5 v3.2 M231.5 315.5 v-3.2 M231.5 4.5 v3.2 M293.5 315.5 v-3.2 M293.5 4.5 v3.2 M355.5 315.5 v-3.2 M355.5 4.5 v3.2 M45.5 315.5 h3.2 M355.5 315.5 h-3.2 M45.5 276.5 h3.2 M355.5 276.5 h-3.2 M45.5 238.5 h3.2 M355.5 238.5 h-3.2 M45.5 199.5 h3.2 M355.5 199.5 h-3.2 M45.5 160.5 h3.2 M355.5 160.5 h-3.2 M45.5 121.5 h3.2 M355.5 121.5 h-3.2 M45.5 82.5 h3.2 M355.5 82.5 h-3.2 M45.5 44.5 h3.2 M355.5 44.5 h-3.2 M45.5 5.5 h3.2 M355.5 5.5 h-3.2"/>
<text class="tk" x="45.5" y="332.8" text-anchor="middle">0</text>
<text class="tk" x="107.5" y="332.8" text-anchor="middle">0.2</text>
<text class="tk" x="169.5" y="332.8" text-anchor="middle">0.4</text>
<text class="tk" x="231.5" y="332.8" text-anchor="middle">0.6</text>
<text class="tk" x="293.5" y="332.8" text-anchor="middle">0.8</text>
<text class="tk" x="355.5" y="332.8" text-anchor="middle">1</text>
<text class="tk" x="41" y="320.4" text-anchor="end">0</text>
<text class="tk" x="41" y="281.6" text-anchor="end">50</text>
<text class="tk" x="41" y="242.9" text-anchor="end">100</text>
<text class="tk" x="41" y="204.2" text-anchor="end">150</text>
<text class="tk" x="41" y="165.4" text-anchor="end">200</text>
<text class="tk" x="41" y="126.7" text-anchor="end">250</text>
<text class="tk" x="41" y="87.9" text-anchor="end">300</text>
<text class="tk" x="41" y="49.1" text-anchor="end">350</text>
<text class="tk" x="41" y="10.4" text-anchor="end">400</text>
<text x="190.6" y="349.8" style="font-size:16.5px;font-style:italic">ϵ<tspan dy="3" style="font-size:12px">yy</tspan></text>
<text transform="translate(13.4,196) rotate(-90)" style="font-size:16.5px"><tspan style="font-style:italic">σ</tspan><tspan dy="3" style="font-size:11.5px;font-style:italic">yy</tspan><tspan dy="-3" dx="2.5"> (MPa)</tspan></text>
<path class="cv" d="M54.7 193.2 H76.1" stroke="#0072BD"/>
<text class="lg" x="78.4" y="197.6">0 ns</text>
<path class="cv" d="M54.7 208.2 H76.1" stroke="#D95319"/>
<text class="lg" x="78.4" y="212.7">10 ns</text>
<path class="cv" d="M54.7 223.3 H76.1" stroke="#EDB120"/>
<text class="lg" x="78.4" y="227.7">20 ns</text>
<path class="cv" d="M54.7 238.3 H76.1" stroke="#7E2F8E"/>
<text class="lg" x="78.4" y="242.8">30 ns</text>
<path class="cv" d="M54.7 253.4 H76.1" stroke="#77AC30"/>
<text class="lg" x="78.4" y="257.8">40 ns</text>
<path class="cv" d="M54.7 268.4 H76.1" stroke="#4DBEEE"/>
<text class="lg" x="78.4" y="272.8">50 ns</text>
<path class="cv" d="M54.7 283.5 H76.1" stroke="#A2142F"/>
<text class="lg" x="78.4" y="287.9">60 ns</text>
<path class="cv" d="M54.7 298.6 H61.8 M65.2 298.6 H72" stroke="#000000"/>
<text class="lg" x="78.4" y="302.9">bulk</text>
</svg></body></html>
